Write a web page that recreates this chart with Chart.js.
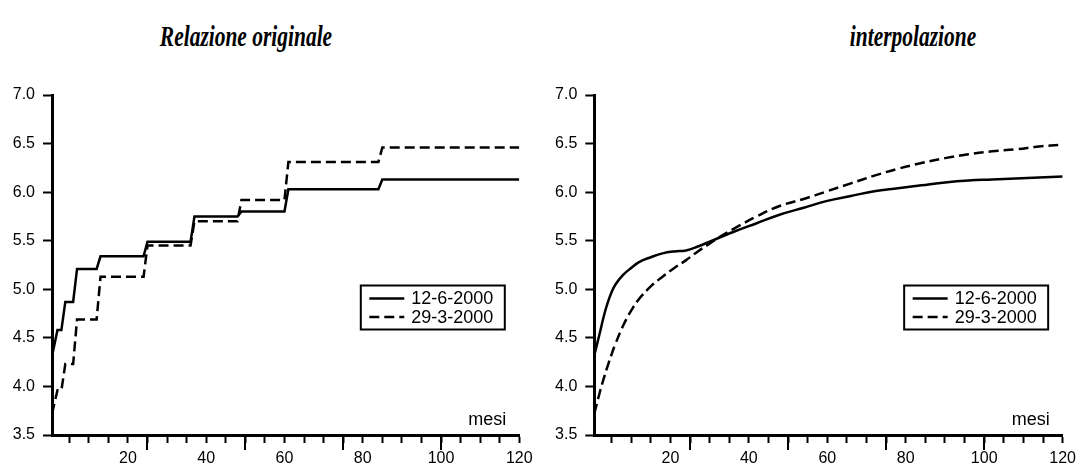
<!DOCTYPE html>
<html>
<head>
<meta charset="utf-8">
<script src="https://cdn.jsdelivr.net/npm/chart.js@4.4.1/dist/chart.umd.min.js"></script>
<style>
  html, body { margin: 0; padding: 0; background: #fff; }
  #wrap { position: relative; width: 1082px; height: 466px; overflow: hidden; background: #fff; }
  canvas { position: absolute; top: 0; }
  .title { position: absolute; top: 18px; font-family: "Liberation Serif", "Times New Roman", serif;
           font-weight: bold; font-style: italic; font-size: 29px; line-height: 36px; color: #000;
           white-space: nowrap; transform: translateX(-50%) scaleX(0.74); transform-origin: center; }
</style>
</head>
<body>
<div id="wrap">
  <div class="title" id="t0"></div>
  <div class="title" id="t1"></div>
  <canvas id="c0" width="541" height="466" style="left:0px"></canvas>
  <canvas id="c1" width="541" height="466" style="left:541px"></canvas>
</div>
<script>
// ---------- data ----------
const titles = ['Relazione originale', 'interpolazione'];
const seriesNames = ['12-6-2000', '29-3-2000'];
const axisLabel = 'mesi';

// left panel: original step relation (corner points, months)
const leftMonths = [0.6, 2, 3, 4, 6, 7, 12, 13, 24, 25, 36, 37, 48, 49, 60, 61, 84, 85, 120];
const leftSolid  = [4.31, 4.58, 4.58, 4.87, 4.87, 5.21, 5.21, 5.34, 5.34, 5.49, 5.49, 5.75, 5.75, 5.80, 5.80, 6.03, 6.03, 6.13, 6.13];
const leftDashed = [3.72, 3.96, 3.96, 4.23, 4.23, 4.69, 4.69, 5.13, 5.13, 5.45, 5.45, 5.70, 5.70, 5.92, 5.92, 6.31, 6.31, 6.46, 6.46];

// right panel: interpolated curves
const rightMonths = [0.6, 2, 3, 4, 5, 6, 8, 10, 12, 15, 18, 21, 24, 27, 30, 33, 36, 42, 48, 54, 60, 66, 72, 78, 84, 90, 96, 102, 108, 114, 120];
const rightSolid  = [4.32, 4.55, 4.72, 4.86, 4.97, 5.05, 5.15, 5.22, 5.28, 5.33, 5.37, 5.39, 5.40, 5.44, 5.49, 5.54, 5.59, 5.68, 5.77, 5.84, 5.91, 5.96, 6.01, 6.04, 6.07, 6.10, 6.12, 6.13, 6.14, 6.15, 6.16];
const rightDashed = [3.72, 3.94, 4.08, 4.21, 4.33, 4.44, 4.63, 4.78, 4.90, 5.03, 5.13, 5.22, 5.30, 5.39, 5.47, 5.55, 5.62, 5.75, 5.86, 5.93, 6.01, 6.09, 6.17, 6.24, 6.30, 6.35, 6.39, 6.42, 6.44, 6.47, 6.49];

// ticks
const xTickValues = [5, 10, 15, 20, 25, 30, 35, 40, 45, 50, 55, 60, 65, 70, 75, 80, 85, 90, 95, 100, 105, 110, 115, 120];
const xTickLabels = [20, 40, 60, 80, 100, 120];
const xLongTicks  = [25, 50, 75, 100];
const yTickValues = [3.5, 4.0, 4.5, 5.0, 5.5, 6.0, 6.5, 7.0];

// ---------- build ----------
const FONT = '"Liberation Sans", Arial, sans-serif';
Chart.defaults.font.family = FONT;
Chart.defaults.color = '#000';

function pts(xs, ys) { return xs.map((x, i) => ({ x: x, y: ys[i] })); }

const decorPlugin = {
  id: 'decor',
  afterDraw(chart) {
    const ctx = chart.ctx;
    const xs = chart.scales.x;
    const ca = chart.chartArea;
    ctx.save();
    // long ticks
    ctx.strokeStyle = '#000';
    ctx.lineWidth = 2;
    xLongTicks.forEach(v => {
      const px = Math.round(xs.getPixelForValue(v));
      ctx.beginPath();
      ctx.moveTo(px, ca.bottom);
      ctx.lineTo(px, ca.bottom + 15);
      ctx.stroke();
    });
    // axis label
    ctx.fillStyle = '#000';
    ctx.font = '18px ' + FONT;
    ctx.textAlign = 'right';
    ctx.textBaseline = 'alphabetic';
    ctx.fillText(axisLabel, xs.getPixelForValue(120) - 13, ca.bottom - 10);
    // legend
    const bw = 144, bh = 44;
    const bx = ca.right - 15 - bw;
    const by = ca.top + 190;
    ctx.lineWidth = 2;
    ctx.setLineDash([]);
    ctx.strokeRect(bx + 0.5, by + 0.5, bw, bh);
    chart.data.datasets.forEach((ds, i) => {
      const ly = by + 13.5 + i * 18.5;
      ctx.beginPath();
      ctx.lineWidth = ds.borderWidth;
      ctx.setLineDash(ds.borderDash || []);
      ctx.moveTo(bx + 9, ly);
      ctx.lineTo(bx + 44, ly);
      ctx.stroke();
      ctx.setLineDash([]);
      ctx.font = '18px ' + FONT;
      ctx.textAlign = 'left';
      ctx.textBaseline = 'middle';
      ctx.fillText(ds.label, bx + 51, ly + 1);
    });
    ctx.restore();
  }
};

function makeChart(id, months, solid, dashed, smooth, padRight) {
  const common = { borderColor: '#000', backgroundColor: '#000', borderWidth: 2.5, pointRadius: 0,
                   fill: false, cubicInterpolationMode: 'default', tension: smooth ? 0.4 : 0 };
  return new Chart(document.getElementById(id), {
    type: 'line',
    data: {
      datasets: [
        Object.assign({ label: seriesNames[0], data: pts(months, solid) }, common),
        Object.assign({ label: seriesNames[1], data: pts(months, dashed), borderDash: [10, 5] }, common)
      ]
    },
    options: {
      responsive: false,
      devicePixelRatio: 1,
      animation: false,
      events: [],
      layout: { padding: { top: 95, right: padRight, bottom: 0, left: 0 } },
      plugins: { legend: { display: false }, title: { display: false }, tooltip: { enabled: false } },
      scales: {
        x: {
          type: 'linear', min: 0.6, max: 120,
          afterBuildTicks: s => { s.ticks = xTickValues.map(v => ({ value: v })); },
          afterFit: s => { s.height = 31; },
          border: { display: true, color: '#000', width: 3 },
          grid: { drawOnChartArea: false, drawTicks: true, tickLength: 8, tickWidth: 2, tickColor: '#000' },
          ticks: { autoSkip: false, maxRotation: 0, padding: 6, font: { size: 16, family: FONT }, color: '#000',
                   callback: v => xTickLabels.includes(v) ? String(v) : '' }
        },
        y: {
          type: 'linear', min: 3.5, max: 7.0,
          afterBuildTicks: s => { s.ticks = yTickValues.map(v => ({ value: v })); },
          afterFit: s => { s.width = id === 'c0' ? 52 : 53.3; },
          border: { display: true, color: '#000', width: 3 },
          grid: { drawOnChartArea: false, drawTicks: true, tickLength: 9, tickWidth: 2, tickColor: '#000' },
          ticks: { padding: 8, font: { size: 16, family: FONT }, color: '#000',
                   callback: v => Number(v).toFixed(1) }
        }
      }
    },
    plugins: [decorPlugin]
  });
}

document.getElementById('t0').textContent = titles[0];
document.getElementById('t1').textContent = titles[1];
document.getElementById('t0').style.left = '246px';
document.getElementById('t1').style.left = '913px';

makeChart('c0', leftMonths, leftSolid, leftDashed, false, 21.7);
makeChart('c1', rightMonths, rightSolid, rightDashed, true, 18.7);
</script>
</body>
</html>
